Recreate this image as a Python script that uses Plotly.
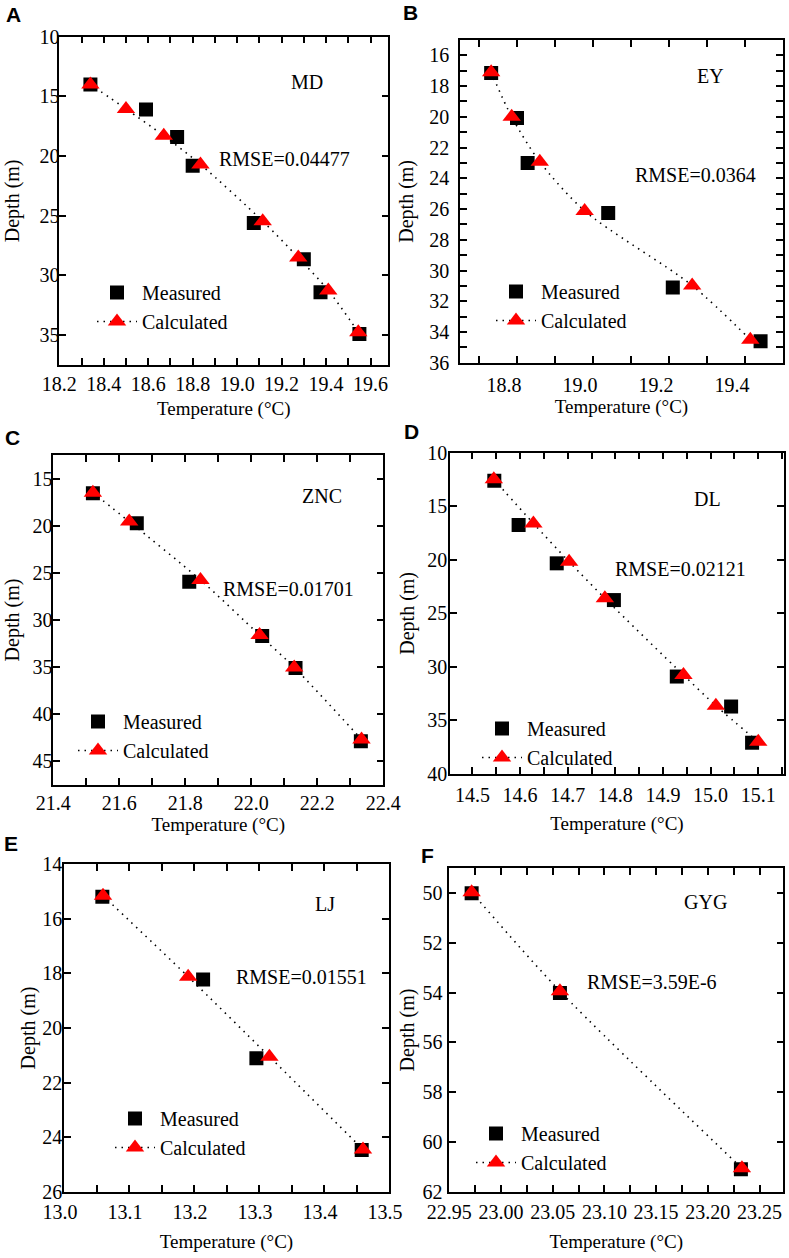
import plotly.graph_objects as go

# ---------------- data ----------------
panel_letters = ["A", "B", "C", "D", "E", "F"]
site_names = ["MD", "EY", "ZNC", "DL", "LJ", "GYG"]
rmse_labels = ["RMSE=0.04477", "RMSE=0.0364", "RMSE=0.01701",
               "RMSE=0.02121", "RMSE=0.01551", "RMSE=3.59E-6"]

MD_meas_T = [18.34, 18.59, 18.73, 18.80, 19.075, 19.30, 19.375, 19.55]
MD_meas_D = [14.0, 16.1, 18.4, 20.8, 25.6, 28.65, 31.4, 34.9]
MD_calc_T = [18.34, 18.50, 18.67, 18.835, 19.115, 19.275, 19.41, 19.545]
MD_calc_D = [14.0, 16.05, 18.3, 20.7, 25.45, 28.5, 31.25, 34.75]

EY_meas_T = [18.732, 18.80, 18.828, 19.04, 19.21, 19.441]
EY_meas_D = [17.15, 20.07, 23.0, 26.26, 31.1, 34.6]
EY_calc_T = [18.732, 18.786, 18.86, 18.978, 19.261, 19.414]
EY_calc_D = [17.1, 20.0, 22.93, 26.12, 30.98, 34.5]

ZNC_meas_T = [21.52, 21.653, 21.812, 22.033, 22.134, 22.332]
ZNC_meas_D = [16.56, 19.74, 25.93, 31.7, 35.1, 42.85]
ZNC_calc_T = [21.52, 21.63, 21.846, 22.025, 22.13, 22.334]
ZNC_calc_D = [16.5, 19.56, 25.76, 31.6, 35.03, 42.67]

DL_meas_T = [14.546, 14.597, 14.677, 14.797, 14.929, 15.043, 15.087]
DL_meas_D = [12.61, 16.75, 20.33, 23.76, 30.9, 33.7, 37.08]
DL_calc_T = [14.545, 14.628, 14.703, 14.778, 14.943, 15.011, 15.10]
DL_calc_D = [12.49, 16.6, 20.18, 23.6, 30.76, 33.62, 37.0]

LJ_meas_T = [13.059, 13.214, 13.296, 13.458]
LJ_meas_D = [15.19, 18.22, 21.11, 24.47]
LJ_calc_T = [13.06, 13.191, 13.316, 13.46]
LJ_calc_D = [15.15, 18.12, 21.05, 24.45]

GYG_meas_T = [22.9716, 23.057, 23.232]
GYG_meas_D = [50.0, 54.01, 61.1]
GYG_calc_T = [22.9716, 23.057, 23.233]
GYG_calc_D = [49.96, 53.94, 61.06]

meas_T = [MD_meas_T, EY_meas_T, ZNC_meas_T, DL_meas_T, LJ_meas_T, GYG_meas_T]
meas_D = [MD_meas_D, EY_meas_D, ZNC_meas_D, DL_meas_D, LJ_meas_D, GYG_meas_D]
calc_T = [MD_calc_T, EY_calc_T, ZNC_calc_T, DL_calc_T, LJ_calc_T, GYG_calc_T]
calc_D = [MD_calc_D, EY_calc_D, ZNC_calc_D, DL_calc_D, LJ_calc_D, GYG_calc_D]

# ---------------- layout configuration ----------------
W, H = 789, 1258
SERIF = "Liberation Serif, Times New Roman, serif"

# plot frames in pixels: (left, right, top, bottom)
frames = [(59.3, 388.3, 36.7, 365.0),
          (460.0, 783.0, 40.0, 362.7),
          (53.3, 383.3, 455.0, 785.0),
          (450.0, 784.0, 452.7, 774.0),
          (64.0, 389.0, 864.3, 1191.7),
          (449.3, 783.3, 868.3, 1191.7)]

x_ranges = [[18.2, 19.68], [18.65, 19.5], [21.4, 22.4],
            [14.453, 15.154], [13.0, 13.5], [22.95, 23.273]]
y_ranges = [[37.5, 10], [36, 15], [47.5, 12.5], [40, 10], [26, 14], [62, 49]]
x_tick0 = [18.2, 18.8, 21.4, 14.5, 13.0, 22.95]
x_dtick = [0.2, 0.2, 0.2, 0.1, 0.1, 0.05]
x_minor = [0.1, 0.1, 0.1, 0.05, 0.05, 0.025]
x_fmt = [".1f", ".1f", ".1f", ".1f", ".1f", ".2f"]
x_shift = [0, -13, 0, 0, -4, 0]
x_lab_standoff = [0, 4, -1, 2, 2, 2]
x_title_standoff = [8, 0, 5, 12, 12, 12]
y_tick0 = [10, 16, 15, 10, 14, 50]
y_dtick = [5, 2, 5, 5, 2, 2]
y_minor = [None, 1, None, None, None, None]
y_lab_standoff = [-6, 5, -5, -3, -4, 1]
y_title_standoff = [15, 10, 8, 7, 1, 3]

# text positions (pixels)
letter_pos = [(13, 14), (410, 12), (12, 438), (411, 431), (11, 843), (427, 855)]
name_pos = [(306.7, 81.7), (710, 76), (321.7, 496), (707.3, 499), (325, 904), (705.7, 901.7)]
rmse_pos = [(284, 159.3), (695, 175), (288.3, 589.3), (680.7, 569), (301.7, 976.7), (651.7, 981.7)]
legend_anchor = [(92, 273), (491, 272), (73, 702), (477, 709), (110, 1099), (471, 1114)]


def px_x(v):
    return v / W


def px_y(v):
    return 1 - v / H


fig = go.Figure()
layout = dict(
    width=W, height=H,
    margin=dict(l=0, r=0, t=0, b=0, pad=0, autoexpand=False),
    paper_bgcolor="white", plot_bgcolor="white",
    font=dict(family=SERIF, size=20, color="black"),
    annotations=[],
)

for i in range(6):
    ax = "" if i == 0 else str(i + 1)
    lg = "legend" if i == 0 else "legend%d" % (i + 1)
    fig.add_trace(go.Scatter(
        x=meas_T[i], y=meas_D[i], mode="markers", name="Measured",
        marker=dict(symbol="square", size=14, color="black", line=dict(width=0)),
        xaxis="x" + ax, yaxis="y" + ax, legend=lg, showlegend=True,
    ))
    fig.add_trace(go.Scatter(
        x=calc_T[i], y=calc_D[i], mode="lines+markers", name="Calculated",
        line=dict(color="black", width=1.6, dash="1.5px,5px", shape="spline", smoothing=0.8),
        marker=dict(symbol="triangle-up", size=16, color="red", line=dict(width=0)),
        xaxis="x" + ax, yaxis="y" + ax, legend=lg, showlegend=True,
    ))
    l, r, t, b = frames[i]
    common = dict(showline=True, linecolor="black", linewidth=1.5, mirror="allticks",
                  ticks="inside", ticklen=7, tickwidth=1.5, tickcolor="black",
                  showgrid=False, zeroline=False, automargin=False,
                  tickfont=dict(family=SERIF, size=20, color="black"))
    xa = dict(common, domain=[px_x(l), px_x(r)], range=x_ranges[i],
              tickmode="linear", tick0=x_tick0[i], dtick=x_dtick[i], tickformat=x_fmt[i],
              minor=dict(dtick=x_minor[i], tick0=x_tick0[i], ticks="inside", ticklen=7,
                         tickwidth=1.5, tickcolor="black", showgrid=False),
              anchor="y" + ax, ticklabelstandoff=x_lab_standoff[i],
              title=dict(text="Temperature (°C)", font=dict(family=SERIF, size=19),
                         standoff=x_title_standoff[i]))
    if x_shift[i]:
        xa["ticklabelshift"] = x_shift[i]
    ya = dict(common, domain=[px_y(b), px_y(t)], range=y_ranges[i],
              tickmode="linear", tick0=y_tick0[i], dtick=y_dtick[i],
              anchor="x" + ax, ticklabelstandoff=y_lab_standoff[i],
              title=dict(text="Depth (m)", font=dict(family=SERIF, size=20),
                         standoff=y_title_standoff[i]))
    if y_minor[i]:
        ya["minor"] = dict(dtick=y_minor[i], tick0=y_tick0[i], ticks="inside", ticklen=7,
                           tickwidth=1.5, tickcolor="black", showgrid=False)
    layout["xaxis" + ax] = xa
    layout["yaxis" + ax] = ya

    gx, gy = legend_anchor[i]
    layout[lg] = dict(x=px_x(gx), y=px_y(gy), xanchor="left", yanchor="top",
                      bgcolor="rgba(0,0,0,0)", borderwidth=0,
                      font=dict(family=SERIF, size=20, color="black"),
                      tracegroupgap=0, itemwidth=40)

    lx, ly = letter_pos[i]
    layout["annotations"].append(dict(
        text="<b>%s</b>" % panel_letters[i], x=px_x(lx), y=px_y(ly), xref="paper", yref="paper",
        showarrow=False, xanchor="center", yanchor="middle",
        font=dict(family="Liberation Sans, Arial, sans-serif", size=21, color="black")))
    nx, ny = name_pos[i]
    layout["annotations"].append(dict(
        text=site_names[i], x=px_x(nx), y=px_y(ny), xref="paper", yref="paper",
        showarrow=False, xanchor="center", yanchor="middle",
        font=dict(family=SERIF, size=20, color="black")))
    rx, ry = rmse_pos[i]
    layout["annotations"].append(dict(
        text=rmse_labels[i], x=px_x(rx), y=px_y(ry), xref="paper", yref="paper",
        showarrow=False, xanchor="center", yanchor="middle",
        font=dict(family=SERIF, size=20, color="black")))

fig.update_layout(**layout)
fig.write_html("out.html",
               config={"displayModeBar": False},
               post_script="document.body.style.margin='0px';"
                           "document.documentElement.style.margin='0px';")
